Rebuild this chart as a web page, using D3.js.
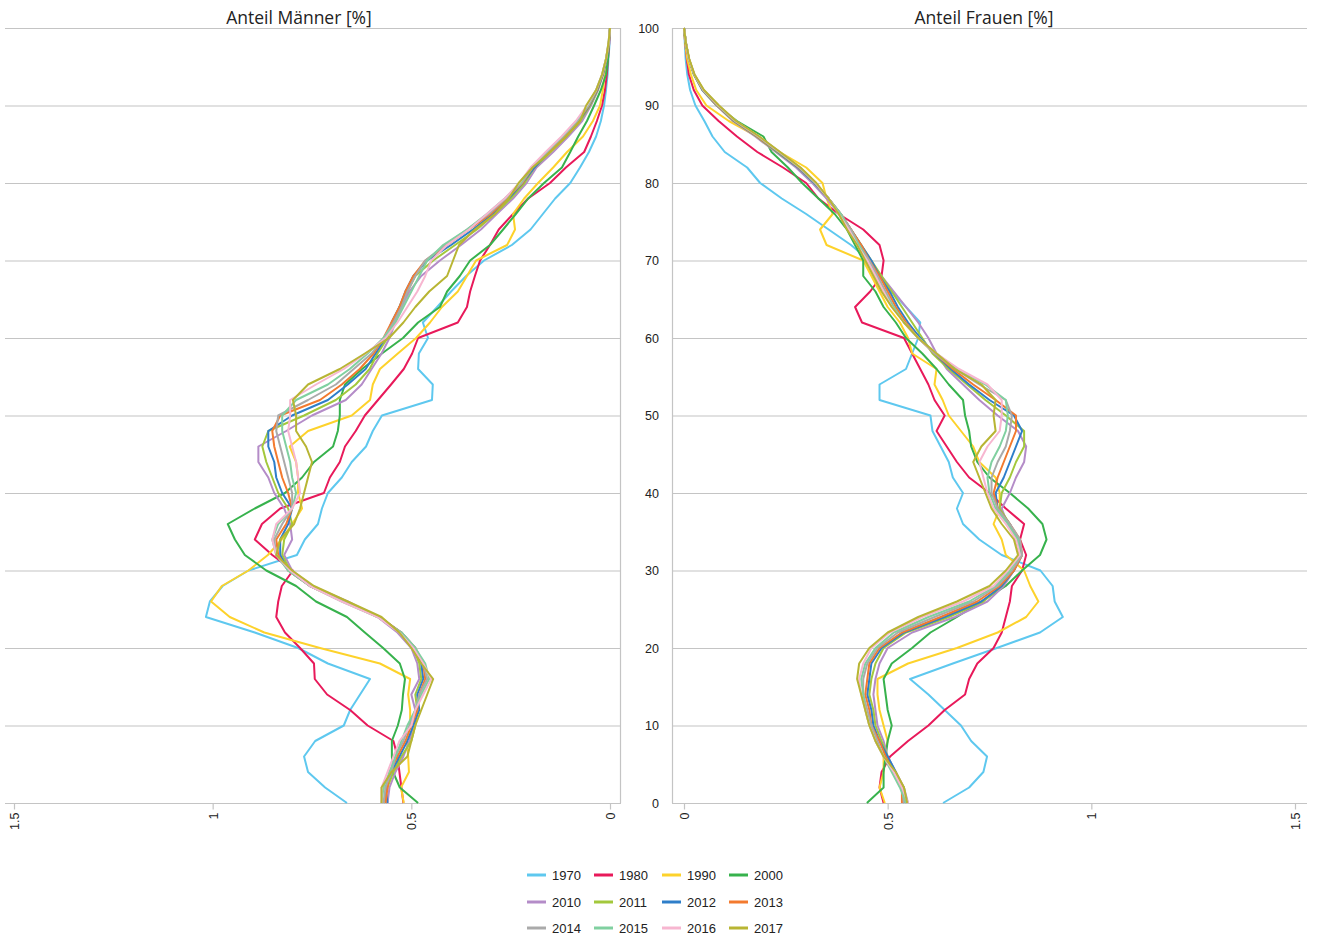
<!DOCTYPE html>
<html><head><meta charset="utf-8">
<script src="https://cdn.jsdelivr.net/npm/d3@7"></script>
<style>
body{margin:0;background:#fff;}
svg{display:block;font-family:"Liberation Sans",Arial,Helvetica,sans-serif;}
</style></head><body>
<svg id="chart" width="1317" height="938"></svg>
<script>
const ages = [0,2,4,6,8,10,12,14,16,18,20,22,24,26,28,30,32,34,36,38,40,42,44,46,48,50,52,54,56,58,60,62,64,66,68,70,72,74,76,78,80,82,84,86,88,90,92,94,96,98,100];
const years = ["1970","1980","1990","2000","2010","2011","2012","2013","2014","2015","2016","2017"];
const yTicks = [0,10,20,30,40,50,60,70,80,90,100];
const xTicks = [0,0.5,1,1.5];

// Anteil Männer [%]
const m1970 = [0.662,0.717,0.76,0.77,0.742,0.67,0.654,0.629,0.604,0.71,0.785,0.894,1.017,1.007,0.975,0.91,0.788,0.768,0.735,0.725,0.71,0.675,0.65,0.614,0.597,0.574,0.448,0.446,0.483,0.481,0.458,0.471,0.435,0.40,0.362,0.317,0.247,0.20,0.169,0.138,0.10,0.0755,0.053,0.035,0.023,0.015,0.010,0.006,0.004,0.001,0];
const m1980 = [0.52,0.525,0.53,0.535,0.545,0.61,0.654,0.712,0.743,0.745,0.78,0.818,0.84,0.835,0.826,0.798,0.85,0.894,0.876,0.83,0.72,0.705,0.68,0.667,0.64,0.617,0.584,0.551,0.519,0.498,0.483,0.383,0.36,0.352,0.34,0.327,0.302,0.28,0.244,0.206,0.151,0.111,0.065,0.048,0.033,0.02,0.0126,0.008,0.005,0.002,0];
const m1990 = [0.519,0.526,0.506,0.508,0.511,0.503,0.503,0.508,0.503,0.579,0.73,0.87,0.957,1.004,0.977,0.91,0.861,0.826,0.80,0.775,0.785,0.785,0.79,0.806,0.76,0.65,0.604,0.597,0.579,0.534,0.488,0.453,0.423,0.383,0.36,0.337,0.259,0.239,0.244,0.216,0.181,0.143,0.108,0.068,0.043,0.025,0.018,0.013,0.008,0.003,0];
const m2000 = [0.483,0.529,0.546,0.549,0.549,0.534,0.524,0.521,0.516,0.529,0.571,0.617,0.662,0.74,0.79,0.865,0.919,0.944,0.962,0.894,0.818,0.775,0.745,0.697,0.685,0.68,0.68,0.667,0.624,0.574,0.521,0.483,0.428,0.41,0.378,0.352,0.302,0.269,0.237,0.206,0.166,0.121,0.10,0.08,0.058,0.04,0.023,0.01,0.005,0.003,0];
const m2010 = [0.56,0.555,0.54,0.52,0.505,0.495,0.49,0.50,0.48,0.485,0.50,0.535,0.585,0.66,0.75,0.80,0.82,0.80,0.805,0.82,0.845,0.86,0.885,0.885,0.815,0.75,0.665,0.625,0.60,0.575,0.555,0.54,0.525,0.505,0.475,0.428,0.375,0.325,0.285,0.244,0.21,0.185,0.143,0.105,0.07,0.048,0.03,0.017,0.009,0.003,0];
const m2011 = [0.57,0.56,0.545,0.525,0.50,0.49,0.485,0.49,0.475,0.48,0.495,0.53,0.58,0.665,0.755,0.805,0.825,0.82,0.80,0.81,0.835,0.85,0.865,0.875,0.86,0.77,0.69,0.64,0.605,0.585,0.56,0.545,0.53,0.51,0.49,0.445,0.39,0.335,0.29,0.25,0.215,0.19,0.15,0.11,0.075,0.05,0.031,0.018,0.009,0.003,0];
const m2012 = [0.56,0.565,0.55,0.53,0.51,0.495,0.48,0.485,0.47,0.475,0.49,0.525,0.58,0.665,0.755,0.81,0.83,0.83,0.81,0.80,0.825,0.84,0.845,0.86,0.86,0.80,0.71,0.66,0.615,0.59,0.565,0.55,0.53,0.515,0.495,0.46,0.40,0.345,0.295,0.255,0.22,0.19,0.155,0.115,0.078,0.052,0.032,0.018,0.009,0.003,0];
const m2013 = [0.565,0.56,0.555,0.535,0.515,0.50,0.485,0.48,0.465,0.47,0.49,0.525,0.58,0.67,0.755,0.81,0.835,0.84,0.815,0.80,0.81,0.825,0.835,0.845,0.85,0.83,0.73,0.675,0.63,0.595,0.57,0.55,0.53,0.515,0.495,0.465,0.41,0.355,0.30,0.26,0.22,0.195,0.155,0.115,0.08,0.053,0.033,0.019,0.01,0.003,0];
const m2014 = [0.57,0.565,0.55,0.54,0.52,0.505,0.49,0.48,0.46,0.47,0.49,0.525,0.585,0.67,0.755,0.81,0.84,0.845,0.825,0.80,0.80,0.81,0.82,0.83,0.84,0.835,0.76,0.69,0.645,0.60,0.57,0.545,0.525,0.51,0.49,0.465,0.415,0.36,0.305,0.262,0.222,0.195,0.158,0.118,0.082,0.054,0.034,0.019,0.01,0.003,0];
const m2015 = [0.575,0.57,0.555,0.54,0.525,0.51,0.49,0.475,0.455,0.465,0.49,0.525,0.585,0.675,0.755,0.81,0.84,0.85,0.835,0.80,0.79,0.80,0.805,0.815,0.825,0.825,0.79,0.71,0.655,0.61,0.57,0.54,0.52,0.50,0.48,0.46,0.42,0.36,0.31,0.265,0.225,0.198,0.16,0.12,0.084,0.056,0.035,0.02,0.01,0.004,0];
const m2016 = [0.575,0.575,0.56,0.545,0.53,0.50,0.49,0.47,0.45,0.47,0.495,0.53,0.585,0.675,0.755,0.805,0.84,0.85,0.84,0.80,0.78,0.785,0.79,0.80,0.81,0.805,0.805,0.74,0.67,0.615,0.565,0.535,0.51,0.485,0.465,0.45,0.41,0.355,0.31,0.265,0.228,0.20,0.162,0.122,0.086,0.058,0.035,0.02,0.01,0.004,0];
const m2017 = [0.575,0.575,0.55,0.51,0.50,0.49,0.475,0.46,0.445,0.475,0.50,0.53,0.575,0.66,0.745,0.80,0.84,0.83,0.795,0.78,0.77,0.76,0.75,0.765,0.79,0.79,0.798,0.76,0.68,0.617,0.556,0.52,0.49,0.455,0.41,0.395,0.38,0.34,0.29,0.255,0.23,0.195,0.15,0.11,0.075,0.06,0.035,0.02,0.01,0.004,0];

// Anteil Frauen [%]
const f1970 = [0.636,0.70,0.735,0.744,0.705,0.68,0.64,0.60,0.555,0.66,0.768,0.874,0.93,0.91,0.905,0.875,0.78,0.725,0.685,0.67,0.685,0.66,0.65,0.63,0.61,0.605,0.48,0.48,0.545,0.56,0.575,0.58,0.545,0.51,0.48,0.455,0.41,0.355,0.30,0.24,0.187,0.155,0.10,0.07,0.05,0.028,0.015,0.008,0.004,0.002,0];
const f1980 = [0.49,0.48,0.485,0.506,0.55,0.60,0.64,0.69,0.70,0.72,0.76,0.78,0.79,0.80,0.805,0.83,0.84,0.825,0.835,0.79,0.75,0.70,0.67,0.645,0.62,0.64,0.615,0.60,0.58,0.56,0.54,0.437,0.42,0.457,0.485,0.49,0.48,0.44,0.38,0.33,0.30,0.243,0.18,0.13,0.085,0.045,0.024,0.012,0.007,0.003,0];
const f1990 = [0.493,0.48,0.49,0.49,0.50,0.49,0.48,0.475,0.475,0.55,0.67,0.77,0.84,0.87,0.85,0.835,0.79,0.78,0.76,0.775,0.775,0.765,0.725,0.71,0.68,0.65,0.635,0.615,0.62,0.56,0.55,0.53,0.50,0.48,0.46,0.44,0.35,0.334,0.365,0.35,0.34,0.30,0.235,0.18,0.11,0.055,0.03,0.017,0.008,0.003,0];
const f2000 = [0.449,0.49,0.49,0.495,0.50,0.51,0.50,0.495,0.49,0.51,0.56,0.605,0.67,0.73,0.79,0.83,0.874,0.89,0.88,0.845,0.80,0.75,0.72,0.705,0.70,0.69,0.685,0.65,0.62,0.585,0.545,0.52,0.49,0.47,0.44,0.44,0.42,0.40,0.37,0.33,0.29,0.255,0.215,0.195,0.13,0.08,0.045,0.025,0.012,0.004,0];
const f2010 = [0.55,0.54,0.52,0.50,0.49,0.475,0.47,0.465,0.47,0.48,0.50,0.56,0.665,0.745,0.785,0.81,0.825,0.815,0.795,0.78,0.80,0.815,0.835,0.84,0.82,0.77,0.725,0.685,0.645,0.62,0.60,0.575,0.545,0.515,0.485,0.455,0.43,0.405,0.38,0.35,0.315,0.275,0.225,0.175,0.12,0.08,0.045,0.024,0.012,0.005,0];
const f2011 = [0.545,0.54,0.515,0.50,0.485,0.47,0.465,0.455,0.46,0.47,0.49,0.545,0.65,0.735,0.78,0.81,0.825,0.815,0.80,0.775,0.78,0.80,0.815,0.835,0.835,0.79,0.74,0.695,0.65,0.61,0.585,0.56,0.535,0.51,0.485,0.46,0.435,0.41,0.385,0.355,0.32,0.28,0.228,0.178,0.122,0.081,0.046,0.024,0.012,0.005,0];
const f2012 = [0.54,0.535,0.52,0.50,0.48,0.465,0.46,0.45,0.455,0.46,0.485,0.54,0.64,0.73,0.78,0.81,0.83,0.82,0.80,0.77,0.765,0.785,0.80,0.815,0.83,0.81,0.75,0.70,0.655,0.615,0.58,0.55,0.525,0.505,0.48,0.46,0.435,0.41,0.385,0.355,0.32,0.28,0.23,0.18,0.123,0.082,0.046,0.025,0.012,0.005,0];
const f2013 = [0.535,0.535,0.515,0.495,0.48,0.46,0.455,0.445,0.45,0.455,0.48,0.535,0.63,0.72,0.775,0.81,0.83,0.825,0.80,0.77,0.76,0.77,0.785,0.80,0.815,0.815,0.765,0.71,0.66,0.615,0.575,0.545,0.52,0.50,0.48,0.455,0.435,0.41,0.385,0.355,0.322,0.282,0.232,0.18,0.124,0.082,0.047,0.025,0.012,0.005,0];
const f2014 = [0.54,0.535,0.515,0.49,0.475,0.46,0.45,0.44,0.44,0.45,0.475,0.525,0.615,0.71,0.77,0.805,0.83,0.825,0.80,0.77,0.755,0.755,0.77,0.79,0.80,0.805,0.79,0.725,0.665,0.615,0.575,0.54,0.515,0.495,0.475,0.455,0.43,0.41,0.385,0.355,0.322,0.283,0.233,0.182,0.125,0.083,0.047,0.025,0.012,0.005,0];
const f2015 = [0.545,0.53,0.51,0.49,0.47,0.455,0.445,0.44,0.435,0.445,0.47,0.515,0.60,0.70,0.765,0.80,0.825,0.82,0.795,0.765,0.75,0.745,0.755,0.775,0.79,0.795,0.79,0.74,0.67,0.62,0.575,0.54,0.515,0.49,0.47,0.45,0.43,0.405,0.385,0.355,0.323,0.284,0.234,0.183,0.126,0.084,0.048,0.025,0.012,0.005,0];
const f2016 = [0.55,0.535,0.515,0.49,0.47,0.455,0.445,0.435,0.43,0.44,0.46,0.505,0.585,0.685,0.76,0.795,0.825,0.815,0.79,0.76,0.745,0.735,0.725,0.745,0.775,0.78,0.78,0.745,0.675,0.62,0.575,0.54,0.51,0.49,0.47,0.45,0.425,0.405,0.38,0.355,0.324,0.285,0.235,0.184,0.127,0.085,0.048,0.026,0.012,0.005,0];
const f2017 = [0.548,0.54,0.52,0.49,0.47,0.455,0.445,0.435,0.425,0.43,0.455,0.50,0.575,0.67,0.75,0.79,0.82,0.81,0.78,0.755,0.74,0.725,0.71,0.73,0.765,0.76,0.765,0.73,0.665,0.62,0.575,0.54,0.51,0.485,0.465,0.445,0.425,0.40,0.38,0.355,0.325,0.286,0.236,0.185,0.128,0.086,0.049,0.026,0.013,0.005,0];

const colors = ["#5ec8ef","#e8195a","#fdd22b","#37b24d","#b48cc8","#a3c83c","#2e7ec9","#f37a2f","#aaaaaa","#80d0a0","#f7b6d0","#b8b533"];

const maleData = [m1970,m1980,m1990,m2000,m2010,m2011,m2012,m2013,m2014,m2015,m2016,m2017];
const femaleData = [f1970,f1980,f1990,f2000,f2010,f2011,f2012,f2013,f2014,f2015,f2016,f2017];

const svg = d3.select("#chart");
const y = d3.scaleLinear().domain([0,100]).range([803,28]);
const xM = d3.scaleLinear().domain([0,1.5]).range([610,14]);
const xF = d3.scaleLinear().domain([0,1.5]).range([684,1295]);

const gridColor = "#c4c4c4";
const panels = [{x0:5,x1:621},{x0:672,x1:1307}];

const grid = svg.append("g");
panels.forEach(p=>{
  grid.selectAll(null).data(yTicks).join("line")
    .attr("x1",p.x0).attr("x2",p.x1)
    .attr("y1",d=>y(d)+0.5).attr("y2",d=>y(d)+0.5)
    .attr("stroke",gridColor).attr("stroke-width",1.2);
});
grid.append("line").attr("x1",620.5).attr("x2",620.5).attr("y1",y(100)).attr("y2",y(0))
  .attr("stroke",gridColor).attr("stroke-width",1.2);
grid.append("line").attr("x1",672.5).attr("x2",672.5).attr("y1",y(100)).attr("y2",y(0))
  .attr("stroke",gridColor).attr("stroke-width",1.2);

function xAxis(scale){
  const g = svg.append("g").attr("transform","translate(0,803.5)")
    .call(d3.axisBottom(scale).tickValues(xTicks).tickSize(6).tickFormat(d3.format("")));
  g.select(".domain").remove();
  g.selectAll(".tick line").attr("stroke",gridColor).attr("stroke-width",1.2);
  g.selectAll(".tick text")
    .attr("transform","rotate(-90)")
    .attr("x",-9).attr("y",0).attr("dy","0.36em")
    .style("text-anchor","end")
    .style("font-size","12.5px")
    .style("font-family","'Liberation Sans',Arial,sans-serif")
    .attr("fill","#222");
}
xAxis(xM);
xAxis(xF);

// y labels in the middle
const yl = svg.append("g").attr("transform","translate(659,0)")
  .call(d3.axisLeft(y).tickValues(yTicks).tickSize(0).tickPadding(0).tickFormat(d3.format("d")));
yl.select(".domain").remove();
yl.selectAll(".tick text").style("font-size","12.5px")
  .style("font-family","'Liberation Sans',Arial,sans-serif").attr("fill","#222");

// titles
const titleFont = "'Open Sans','Noto Sans',sans-serif";
svg.append("text").attr("x",299).attr("y",24).attr("text-anchor","middle")
  .style("font-size","17.5px").style("font-family",titleFont).attr("fill","#222").text("Anteil Männer [%]");
svg.append("text").attr("x",984).attr("y",24).attr("text-anchor","middle")
  .style("font-size","17.5px").style("font-family",titleFont).attr("fill","#222").text("Anteil Frauen [%]");

// lines
const lineM = d3.line().x(d=>xM(d.v)).y(d=>y(d.a));
const lineF = d3.line().x(d=>xF(d.v)).y(d=>y(d.a));
const lines = svg.append("g").attr("fill","none").attr("stroke-width",2).attr("stroke-linejoin","round");
years.forEach((yr,i)=>{
  const md = ages.map((a,k)=>({a:a,v:maleData[i][k]}));
  const fd = ages.map((a,k)=>({a:a,v:femaleData[i][k]}));
  lines.append("path").attr("d",lineM(md)).attr("stroke",colors[i]);
  lines.append("path").attr("d",lineF(fd)).attr("stroke",colors[i]);
});

// legend
const colX = [527,594,662,729];
const rowY = [875,902,928];
const lg = svg.append("g");
years.forEach((yr,i)=>{
  const cx = colX[i%4], cy = rowY[Math.floor(i/4)];
  lg.append("line").attr("x1",cx).attr("x2",cx+19).attr("y1",cy).attr("y2",cy)
    .attr("stroke",colors[i]).attr("stroke-width",3);
  lg.append("text").attr("x",cx+25).attr("y",cy).attr("dy","0.36em")
    .style("font-size","13px").attr("fill","#222").text(yr);
});
</script>
</body></html>
